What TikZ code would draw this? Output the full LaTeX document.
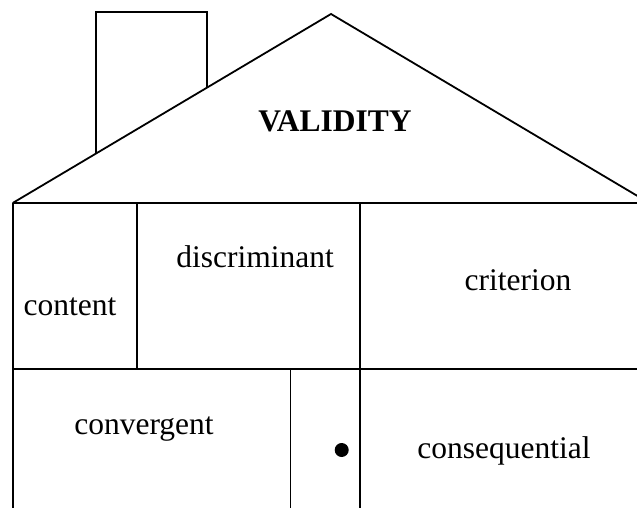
\documentclass[tikz,border=0pt]{standalone}
\usepackage{fontspec}
\setmainfont{Liberation Serif}

\begin{document}
\begin{tikzpicture}[x=1pt,y=-1pt,
		wall/.style={line width=1.8pt},
		room/.style={inner sep=0pt, anchor=base, font=\fontsize{31.5}{36}\selectfont}]
		
		\clip (0,0) rectangle (637,508);
		
		\draw[wall] (12.7,203) -- (331,14) -- (649.3,203);
		\draw[wall] (96,153.5) -- (96,12) -- (206.7,12) -- (206.7,87.8);
		
		\draw[wall] (12.7,203.3) -- (645,203.3);
		\draw[wall] (12.7,203.3) -- (12.7,515);
		\draw[wall] (137.3,203.3) -- (137.3,369);
		\draw[wall] (360,203.3) -- (360,515);
		\draw[wall] (12.7,369) -- (645,369);
		\draw[wall] (290.5,369) -- (290.5,515);
		
		\fill (341.7,450) circle (7);
		
		\node[room, font=\fontsize{31.5}{36}\selectfont\bfseries] (validity) at (335,131.7) {VALIDITY};
		\node[room] (content) at (70,315.7) {content};
		\node[room] (discriminant) at (255,267) {discriminant};
		\node[room] (criterion) at (518,290.7) {criterion};
		\node[room] (convergent) at (144,434.3) {convergent};
		\node[room] (consequential) at (504,458.3) {consequential};
		
	\end{tikzpicture}
\end{document}
